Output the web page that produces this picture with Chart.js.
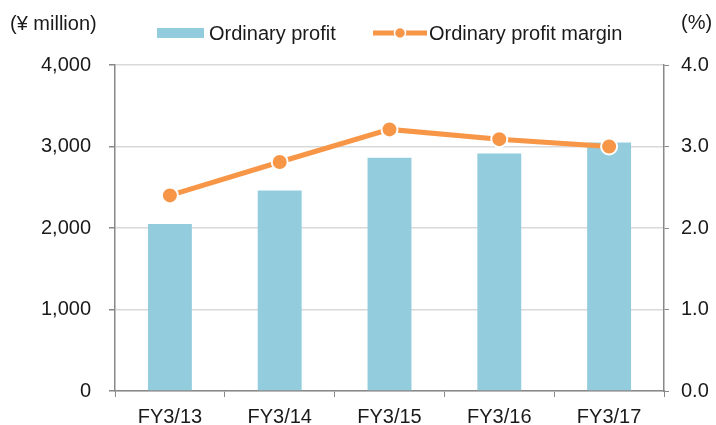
<!DOCTYPE html>
<html>
<head>
<meta charset="utf-8">
<script src="https://cdn.jsdelivr.net/npm/chart.js@4/dist/chart.umd.min.js"></script>
<style>
  html, body { margin: 0; padding: 0; background: #fff; }
  #wrap { width: 716px; height: 425px; position: relative; }
</style>
</head>
<body>
<div id="wrap"><canvas id="myChart"></canvas></div>
<script>
'use strict'

var years = ["FY3/13", "FY3/14", "FY3/15", "FY3/16", "FY3/17"];
var profit = [2050, 2460, 2862, 2915, 3050];      // ¥ million
var margin = [2.40, 2.81, 3.21, 3.09, 3.00];      // %
var leftTicks = [0, 1000, 2000, 3000, 4000];
var rightTicks = [0, 1, 2, 3, 4];

var BLUE = '#93CDDD';
var ORANGE = '#F79646';
var FONT = '"Liberation Sans", Arial, sans-serif';
var TXT = '#1a1a1a';

Chart.defaults.font.family = FONT;
Chart.defaults.font.size = 20;
Chart.defaults.color = TXT;

// unit labels + custom legend
var extras = {
  id: 'extras',
  afterDraw: function(chart) {
    var c = chart.ctx;
    c.save();
    c.font = '20px ' + FONT;
    c.fillStyle = TXT;
    c.textBaseline = 'middle';
    c.textAlign = 'left';
    c.fillText('(\u00a5 million)', 10, 24);
    c.fillText('(%)', 681, 23);

    var ds = chart.data.datasets;
    var bars = ds.filter(function(d) { return d.type !== 'line'; })[0];
    var line = ds.filter(function(d) { return d.type === 'line'; })[0];
    // bar entry
    c.fillStyle = bars.backgroundColor;
    c.fillRect(157, 28, 47, 10);
    c.fillStyle = TXT;
    c.fillText(bars.label, 209, 34);
    // line entry
    c.strokeStyle = line.borderColor;
    c.lineWidth = 5;
    c.beginPath();
    c.moveTo(373, 33);
    c.lineTo(427, 33);
    c.stroke();
    c.fillStyle = line.borderColor;
    c.strokeStyle = '#fff';
    c.lineWidth = 1.5;
    c.beginPath();
    c.arc(400, 33, 5.5, 0, Math.PI * 2);
    c.fill();
    c.stroke();
    c.fillStyle = TXT;
    c.fillText(line.label, 429, 34);
    c.restore();
  }
};

var ctx = document.getElementById("myChart").getContext("2d");

var myChart = new Chart(ctx, {
  type: 'bar',
  data: {
    labels: years,
    datasets: [
      {
        type: 'line',
        label: 'Ordinary profit margin',
        data: margin,
        yAxisID: 'y2',
        borderColor: ORANGE,
        backgroundColor: ORANGE,
        borderWidth: 5,
        pointRadius: 8,
        pointBorderWidth: 2,
        pointBorderColor: '#fff',
        pointBackgroundColor: ORANGE,
        tension: 0,
        order: 0
      },
      {
        label: 'Ordinary profit',
        data: profit,
        yAxisID: 'y',
        backgroundColor: BLUE,
        barPercentage: 0.4,
        categoryPercentage: 1.0,
        order: 1
      }
    ]
  },
  options: {
    responsive: true,
    maintainAspectRatio: false,
    animation: false,
    layout: { padding: { top: 65, left: 0, right: 0, bottom: 0 } },
    plugins: {
      legend: { display: false },
      tooltip: { enabled: false }
    },
    scales: {
      x: {
        offset: true,
        grid: {
          offset: true,
          drawOnChartArea: false,
          drawTicks: true,
          tickLength: 6,
          tickColor: '#888'
        },
        border: { color: '#888', width: 1.5 },
        ticks: { padding: 8, color: TXT },
        afterFit: function(s) { s.height = 34; }
      },
      y: {
        position: 'left',
        min: 0,
        max: 4000,
        afterBuildTicks: function(s) { s.ticks = leftTicks.map(function(v) { return { value: v }; }); },
        ticks: {
          padding: 18,
          color: TXT,
          callback: function(v) { return v.toLocaleString('en-US'); }
        },
        grid: { color: '#d9d9d9', lineWidth: 1.5, tickColor: '#888', tickLength: 6 },
        border: { color: '#888', width: 1.5 },
        afterFit: function(s) { s.width = 115; }
      },
      y2: {
        position: 'right',
        min: 0,
        max: 4,
        afterBuildTicks: function(s) { s.ticks = rightTicks.map(function(v) { return { value: v }; }); },
        ticks: {
          padding: 12,
          color: TXT,
          callback: function(v) { return v.toFixed(1); }
        },
        grid: { drawOnChartArea: false, tickColor: '#888', tickLength: 5 },
        border: { color: '#888', width: 1.5 },
        afterFit: function(s) { s.width = 52; }
      }
    }
  },
  plugins: [extras]
});
</script>
</body>
</html>
